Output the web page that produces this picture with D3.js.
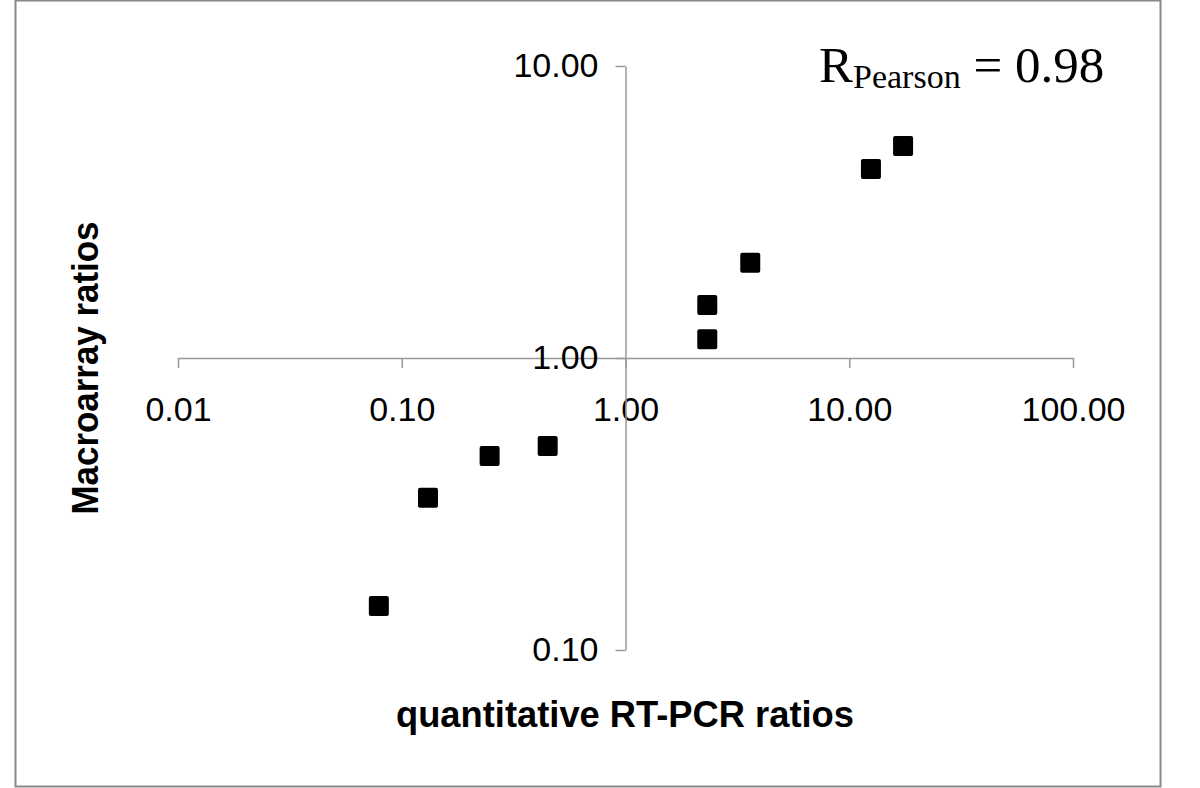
<!DOCTYPE html>
<html><head><meta charset="utf-8">
<script src="https://cdn.jsdelivr.net/npm/d3@7"></script>
<style>body{margin:0;background:#fff}svg{display:block}</style>
</head><body>
<svg id="c" width="1200" height="788"></svg>
<script>
const rtpcr = [0.079, 0.131, 0.247, 0.449, 2.32, 2.32, 3.61, 12.5, 17.4];
const macro = [0.1415, 0.332, 0.462, 0.50, 1.52, 1.16, 2.12, 4.44, 5.32];
const xTicks = [0.01, 0.1, 1, 10, 100];
const yTicks = [0.1, 1, 10];
const xTickLabels = ["0.01", "0.10", "1.00", "10.00", "100.00"];
const yTickLabels = ["0.10", "1.00", "10.00"];

const svg = d3.select("#c");
svg.append("rect").attr("x",15.5).attr("y",0.5).attr("width",1145).attr("height",786)
  .attr("fill","#fff").attr("stroke","#888").attr("stroke-width",2);

const x = d3.scaleLog().domain([0.01,100]).range([178,1073]);
const y = d3.scaleLog().domain([0.1,10]).range([650,66]);

const axisCol = "#999";
const sans = "Arial, 'Liberation Sans', sans-serif";
// x axis at y=1
const xg = svg.append("g").attr("transform",`translate(0,${y(1)})`)
  .call(d3.axisBottom(x).tickValues(xTicks).tickSize(10).tickSizeOuter(0)
    .tickFormat((d,i)=>xTickLabels[i]));
xg.select(".domain").attr("stroke",axisCol).attr("stroke-width",1.5);
xg.selectAll(".tick line").attr("stroke",axisCol).attr("stroke-width",1.5);
xg.selectAll(".tick text").attr("font-family",sans)
  .attr("font-size",34).attr("fill","#000").attr("y",63).attr("dy",0);

// y axis at x=1
const yg = svg.append("g").attr("transform",`translate(${x(1)},0)`)
  .call(d3.axisLeft(y).tickValues(yTicks).tickSize(10).tickSizeOuter(0)
    .tickFormat((d,i)=>yTickLabels[i]).tickPadding(17));
yg.select(".domain").attr("stroke",axisCol).attr("stroke-width",1.5);
yg.selectAll(".tick line").attr("stroke",axisCol).attr("stroke-width",1.5);
yg.selectAll(".tick text").attr("font-family",sans)
  .attr("font-size",34).attr("fill","#000").attr("dy","0.3em");

// points
const s = 20;
svg.append("g").selectAll("rect").data(rtpcr).join("rect")
  .attr("x",(d)=>x(d)-s/2).attr("y",(d,i)=>y(macro[i])-s/2)
  .attr("width",s).attr("height",s).attr("rx",2).attr("fill","#000");

// axis titles
svg.append("text").attr("x",625).attr("y",727).attr("text-anchor","middle")
  .attr("font-family",sans).attr("font-weight","bold")
  .attr("font-size",37).attr("textLength",458).attr("lengthAdjust","spacingAndGlyphs")
  .text("quantitative RT-PCR ratios");
svg.append("text").attr("transform","translate(98,368) rotate(-90)").attr("text-anchor","middle")
  .attr("font-family",sans).attr("font-weight","bold")
  .attr("font-size",37).attr("textLength",293).attr("lengthAdjust","spacingAndGlyphs")
  .text("Macroarray ratios");

// Pearson annotation
const t = svg.append("text").attr("x",819).attr("y",82)
  .attr("font-family","'Times New Roman', 'Liberation Serif', serif").attr("font-size",51).attr("fill","#000");
t.append("tspan").text("R");
t.append("tspan").attr("font-size",34).attr("dy",6).text("Pearson");
t.append("tspan").attr("dy",-6).text(" = 0.98");
</script>
</body></html>
